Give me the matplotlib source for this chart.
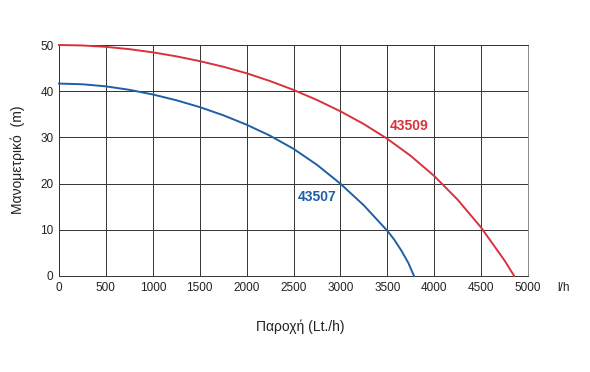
import matplotlib
matplotlib.use("Agg")
import matplotlib.pyplot as plt

plt.rcParams["font.family"] = ["Liberation Sans", "DejaVu Sans"]

# flow (l/h) vs head (m)
flow_43509 = [0, 250, 500, 750, 1000, 1250, 1500, 1750, 2000, 2250, 2500, 2750,
              3000, 3250, 3500, 3750, 4000, 4250, 4500, 4750, 4853]
head_43509 = [50, 49.9, 49.6, 49.1, 48.41, 47.55, 46.51, 45.30, 43.88, 42.20, 40.28,
              38.10, 35.65, 32.88, 29.70, 26.00, 21.65, 16.52, 10.49, 3.36, 0]
flow_43507 = [0, 250, 500, 750, 1000, 1250, 1500, 1750, 2000, 2250, 2500, 2750,
              3000, 3250, 3500, 3575, 3650, 3725, 3785]
head_43507 = [41.65, 41.50, 41.05, 40.30, 39.29, 38.05, 36.56, 34.80, 32.75, 30.37,
              27.53, 24.07, 19.98, 15.29, 9.79, 7.84, 5.5, 2.8, 0]
xticks = [0, 500, 1000, 1500, 2000, 2500, 3000, 3500, 4000, 4500, 5000]
yticks = [0, 10, 20, 30, 40, 50]

RED = "#d8323c"
BLUE = "#1f5fa6"

fig = plt.figure(figsize=(5.9, 3.72), dpi=100)
ax = fig.add_axes([59 / 590, 1 - 276 / 372, 469 / 590, 231 / 372])

ax.plot(flow_43509, head_43509, color=RED, lw=1.4, clip_on=False, zorder=3)
ax.plot(flow_43507, head_43507, color=BLUE, lw=1.4, clip_on=False, zorder=3)

ax.text(3731, 32.5, "43509", color=RED, fontsize=10, fontweight="bold",
        ha="center", va="center")
ax.text(2750, 17.1, "43507", color=BLUE, fontsize=10, fontweight="bold",
        ha="center", va="center")

ax.set_xlim(0, 5000)
ax.set_ylim(0, 50)
ax.set_xticks(xticks)
ax.set_yticks(yticks)
ax.grid(True, color="#333333", lw=0.7)
for s in ax.spines.values():
    s.set_color("#333333")
    s.set_linewidth(0.7)
ax.spines["right"].set_color("#888888")
ax.tick_params(length=0, labelsize=8.5, colors="#222222", pad=4)

ax.text(1.075, -0.052, "l/h", transform=ax.transAxes, fontsize=8.5,
        ha="center", va="center", color="#222222")
fig.text(300 / 590, 1 - 327 / 372, "Παροχή (Lt./h)", fontsize=10,
         ha="center", va="center", color="#222222")
fig.text(18 / 590, 1 - 160 / 372, "Μανομετρικό  (m)", fontsize=10,
         rotation=90, ha="center", va="center", color="#222222")

fig.savefig("out.png", dpi=100)
